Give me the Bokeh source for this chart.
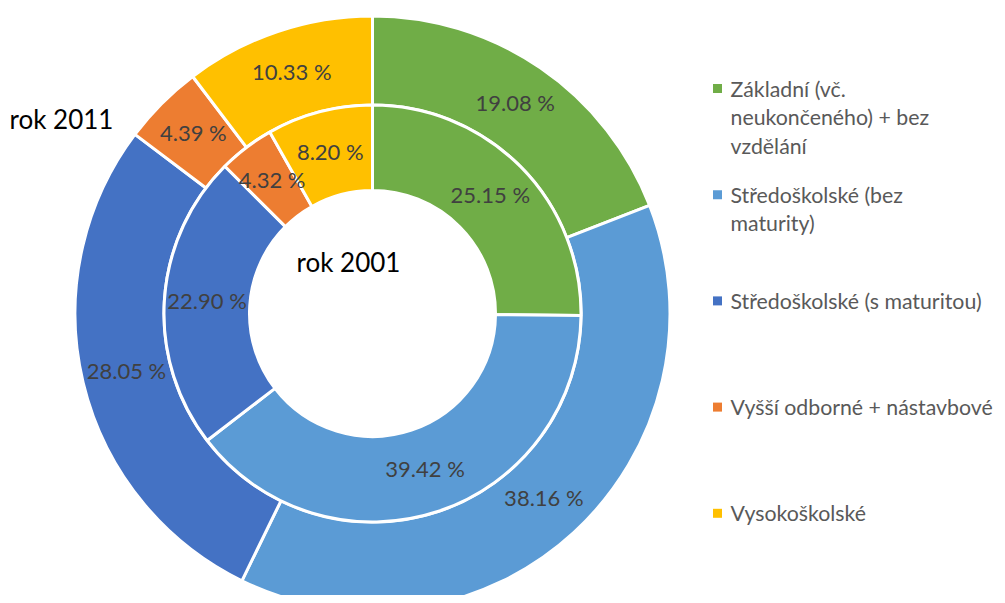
import math
from bokeh.plotting import figure
from bokeh.models import Range1d, ColumnDataSource
from bokeh.core.properties import value
from bokeh.embed import file_html
from bokeh.resources import INLINE

# ---- data ----
categories = [
    "Základní (vč. neukončeného) + bez vzdělání",
    "Středoškolské (bez maturity)",
    "Středoškolské (s maturitou)",
    "Vyšší odborné + nástavbové",
    "Vysokoškolské",
]
legend_lines = [
    ["Základní (vč.", "neukončeného) + bez", "vzdělání"],
    ["Středoškolské (bez", "maturity)"],
    ["Středoškolské (s maturitou)"],
    ["Vyšší odborné + nástavbové"],
    ["Vysokoškolské"],
]
values_2011 = [19.08, 38.16, 28.05, 4.39, 10.33]
values_2001 = [25.15, 39.42, 22.90, 4.32, 8.20]
colors = ["#70AD47", "#5B9BD5", "#4472C4", "#ED7D31", "#FFC000"]
ring_titles = ["rok 2011", "rok 2001"]

# ---- layout (pixels) ----
W, H = 997, 595
CX, CY = 372, 313  # pie centre in picture pixels


def dx(px):
    return px - CX


def dy(py):
    return CY - py


p = figure(width=W, height=H, output_backend="svg", toolbar_location=None,
           x_range=Range1d(-CX, W - CX),
           y_range=Range1d(CY - H, CY),
           min_border=0)
p.axis.visible = False
p.grid.visible = False
p.outline_line_color = None
p.background_fill_color = "white"
p.border_fill_color = "white"

FONT = "Lato"


def ring(vals, r_in, r_out):
    total = sum(vals)
    starts, ends, lx, ly, labels = [], [], [], [], []
    cum = 0.0
    r_mid = (r_in + r_out) / 2
    for v in vals:
        a0 = math.pi / 2 - 2 * math.pi * cum / total
        a1 = math.pi / 2 - 2 * math.pi * (cum + v) / total
        am = (a0 + a1) / 2
        starts.append(a0)
        ends.append(a1)
        lx.append(r_mid * math.cos(am))
        ly.append(r_mid * math.sin(am) + 2)
        labels.append(f"{v:.2f} %")
        cum += v
    src = ColumnDataSource(dict(start=starts, end=ends, color=colors,
                                lx=lx, ly=ly, label=labels))
    p.annular_wedge(x=0, y=0, inner_radius=r_in, outer_radius=r_out,
                    start_angle="start", end_angle="end", direction="clock",
                    fill_color="color", line_color="white", line_width=3,
                    source=src)
    p.text(x="lx", y="ly", text="label", source=src,
           text_font=value(FONT), text_font_size="22px", text_color="#404040",
           text_align="center", text_baseline="middle")


ring(values_2011, 208.5, 297.5)
ring(values_2001, 123, 208.5)

# ring titles
p.text(x=[dx(61), dx(348)], y=[dy(118), dy(261)], text=ring_titles,
       text_font=value(FONT), text_font_size="26px", text_color="#000000",
       text_align="center", text_baseline="middle")

# legend
leg_top = 88
leg_step = 106.2
line_step = 28.5
mx, my, mc = [], [], []
tx, ty, tt = [], [], []
for i, lines in enumerate(legend_lines):
    y0 = leg_top + i * leg_step
    mx.append(dx(717))
    my.append(dy(y0))
    mc.append(colors[i])
    for j, ln in enumerate(lines):
        tx.append(dx(730))
        ty.append(dy(y0 + j * line_step))
        tt.append(ln)
p.rect(x=mx, y=my, width=9, height=9, fill_color=mc, line_color=None)
p.text(x=tx, y=ty, text=tt, text_font=value(FONT), text_font_size="21.3px",
       text_color="#595959", text_align="left", text_baseline="middle")

open("out.html", "w").write(file_html(p, INLINE))
